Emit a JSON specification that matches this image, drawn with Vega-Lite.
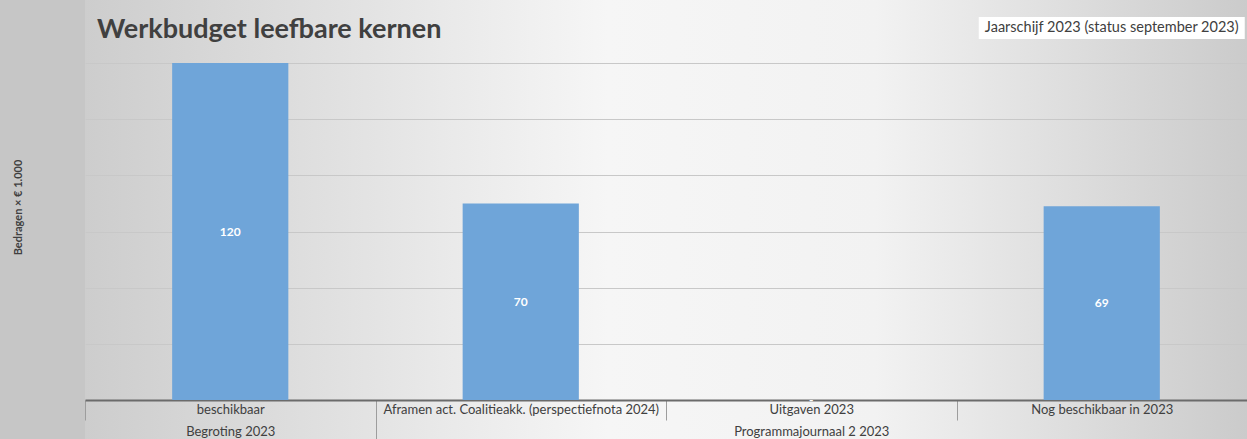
{
  "$schema": "https://vega.github.io/schema/vega-lite/v6.json",
  "width": 1162,
  "height": 439,
  "autosize": {"type": "none"},
  "padding": {"left": 85, "top": 0, "right": 0, "bottom": 0},
  "background": "#c6c6c6",
  "title": {
    "text": "Werkbudget leefbare kernen",
    "anchor": "start",
    "frame": "group",
    "offset": -44,
    "dx": 12,
    "font": "Lato",
    "fontSize": 27,
    "fontWeight": "bold",
    "color": "#404040"
  },
  "config": {
    "font": "Lato",
    "view": {
      "stroke": null,
      "fill": {
        "gradient": "linear",
        "x1": 0, "y1": 0, "x2": 1, "y2": 0,
        "stops": [
          {"offset": 0, "color": "#cdcdcd"},
          {"offset": 0.45, "color": "#f6f6f6"},
          {"offset": 0.68, "color": "#f2f2f2"},
          {"offset": 1, "color": "#cbcbcb"}
        ]
      }
    }
  },
  "data": {
    "values": [
      {"cat": "beschikbaar", "value": 120, "label": "120"},
      {"cat": "Aframen act. Coalitieakk. (perspectiefnota 2024)", "value": 70, "label": "70"},
      {"cat": "Uitgaven 2023", "value": 0, "label": "-"},
      {"cat": "Nog beschikbaar in 2023", "value": 69, "label": "69"}
    ]
  },
  "layer": [
    {
      "mark": {"type": "bar", "color": "#6fa5d9", "width": {"band": 0.4}},
      "encoding": {
        "x": {
          "field": "cat",
          "type": "nominal",
          "scale": {
            "domain": ["beschikbaar", "Aframen act. Coalitieakk. (perspectiefnota 2024)", "Uitgaven 2023", "Nog beschikbaar in 2023"],
            "paddingInner": 0,
            "paddingOuter": 0
          },
          "axis": {
            "title": null,
            "orient": "bottom",
            "offset": -39,
            "domainColor": "#6b6b6b",
            "domainWidth": 2,
            "tickBand": "extent",
            "tickColor": "#9d9d9d",
            "tickWidth": 1,
            "tickSize": {
              "condition": {"test": "datum.value == 'beschikbaar'", "value": 39},
              "value": 20
            },
            "labelPadding": {
              "condition": {"test": "datum.value == 'beschikbaar'", "value": -36},
              "value": -17
            },
            "labelAngle": 0,
            "labelExpr": "datum.value == 'beschikbaar' ? ['beschikbaar', 'Begroting 2023'] : (datum.value == 'Uitgaven 2023' ? ['Uitgaven 2023', 'Programmajournaal 2 2023'] : datum.label)",
            "labelLineHeight": 22,
            "labelBaseline": "top",
            "labelFont": "Lato",
            "labelFontSize": 13,
            "labelColor": "#404040",
            "labelLimit": 400,
            "labelOverlap": false
          }
        },
        "y": {
          "field": "value",
          "type": "quantitative",
          "scale": {"domain": [-13.89, 142.45], "nice": false, "zero": false},
          "axis": {
            "title": "Bedragen × € 1.000",
            "values": [0, 20, 40, 60, 80, 100, 120],
            "labels": false,
            "ticks": false,
            "domain": false,
            "grid": true,
            "gridColor": "#c8c8c8",
            "gridWidth": 1,
            "titleFont": "Lato",
            "titleFontSize": 11,
            "titleFontWeight": "bold",
            "titleColor": "#404040",
            "titlePadding": 62,
            "titleY": 207
          }
        }
      }
    },
    {
      "transform": [{"calculate": "datum.value / 2", "as": "half"}],
      "mark": {"type": "text", "color": "white", "fontWeight": "bold", "fontSize": 12, "font": "Lato", "baseline": "middle"},
      "encoding": {
        "x": {"field": "cat", "type": "nominal"},
        "y": {"field": "half", "type": "quantitative"},
        "text": {"field": "label"}
      }
    },
    {
      "data": {"values": [{"cat": "Nog beschikbaar in 2023", "note": "Jaarschijf 2023 (status september 2023)"}]},
      "mark": {"type": "bar", "color": "white", "width": 266, "xOffset": 10},
      "encoding": {
        "x": {"field": "cat", "type": "nominal"},
        "y": {"datum": 136.4, "type": "quantitative"},
        "y2": {"datum": 128.6}
      }
    },
    {
      "data": {"values": [{"cat": "Nog beschikbaar in 2023", "note": "Jaarschijf 2023 (status september 2023)"}]},
      "mark": {"type": "text", "font": "Lato", "fontSize": 14.5, "color": "#404040", "baseline": "middle", "dx": 10},
      "encoding": {
        "x": {"field": "cat", "type": "nominal"},
        "y": {"datum": 132.5, "type": "quantitative"},
        "text": {"field": "note"}
      }
    }
  ]
}
